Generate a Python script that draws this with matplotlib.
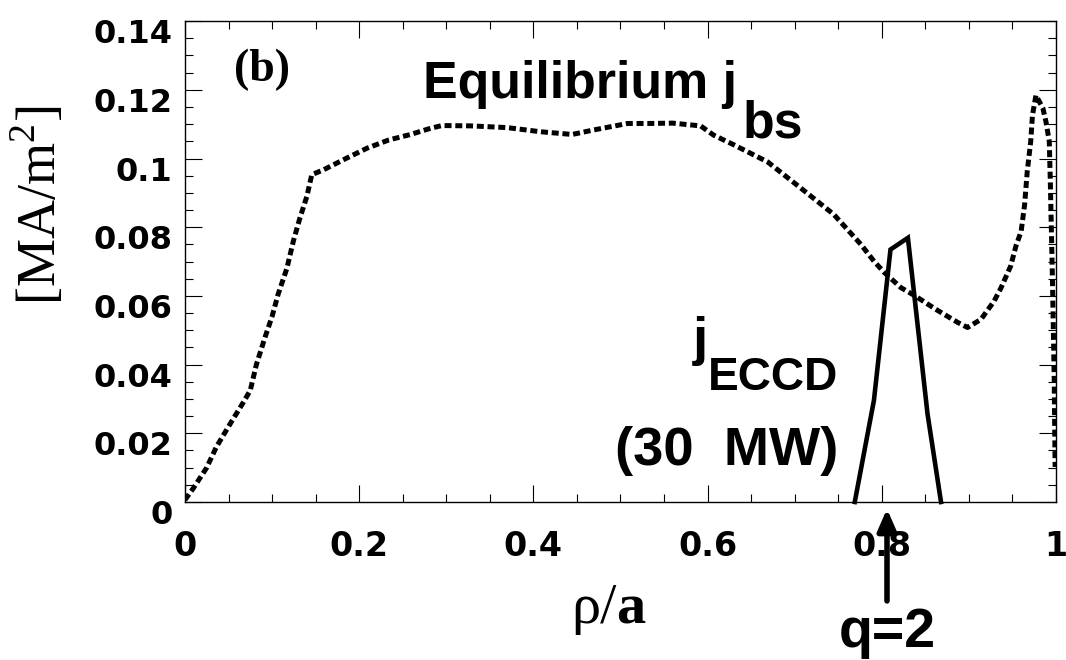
import matplotlib
matplotlib.use("Agg")
import matplotlib.pyplot as plt
import matplotlib.transforms as mtransforms
from matplotlib import font_manager
from matplotlib.ticker import MultipleLocator, FixedLocator, FixedFormatter

# equilibrium bootstrap current (dotted curve)
rho_bs = [0.0, 0.0096, 0.025, 0.036, 0.052, 0.067, 0.075, 0.082, 0.092, 0.100,
          0.107, 0.117, 0.1245, 0.132, 0.140, 0.1456, 0.159, 0.184, 0.209, 0.234,
          0.259, 0.282, 0.295, 0.328, 0.370, 0.408, 0.4445, 0.469, 0.508, 0.531,
          0.560, 0.592, 0.607, 0.630, 0.669, 0.707, 0.745, 0.776, 0.791, 0.803,
          0.822, 0.837, 0.862, 0.887, 0.8985, 0.914, 0.929, 0.937, 0.948, 0.954,
          0.960, 0.964, 0.967, 0.971, 0.973, 0.977, 0.985, 0.9885, 0.9923, 0.9935,
          0.996, 0.998, 0.999]
j_bs = [0.0006, 0.004, 0.010, 0.016, 0.0228, 0.029, 0.0325, 0.040, 0.048, 0.054,
        0.0605, 0.068, 0.076, 0.0827, 0.089, 0.0953, 0.0967, 0.0999, 0.103, 0.1054,
        0.107, 0.1088, 0.1096, 0.1095, 0.109, 0.1078, 0.107, 0.1083, 0.1102, 0.1102,
        0.1103, 0.1095, 0.1068, 0.104, 0.099, 0.0914, 0.0837, 0.075, 0.0701, 0.0668,
        0.0624, 0.0602, 0.0561, 0.0523, 0.0508, 0.0532, 0.0585, 0.0624, 0.0687, 0.0745,
        0.0788, 0.0866, 0.0962, 0.105, 0.1126, 0.1184, 0.1146, 0.1107, 0.105, 0.0933,
        0.0643, 0.0354, 0.0102]

# ECCD driven current (solid)
rho_eccd = [0.769, 0.791, 0.810, 0.830, 0.8525, 0.868]
j_eccd = [0.0, 0.0296, 0.0735, 0.0769, 0.0257, 0.0]

q2_rho = 0.806

x_ticks = [0, 0.2, 0.4, 0.6, 0.8, 1]
x_labels = ["0", "0.2", "0.4", "0.6", "0.8", "1"]
y_ticks = [0, 0.02, 0.04, 0.06, 0.08, 0.10, 0.12, 0.14]
y_labels = ["0", "0.02", "0.04", "0.06", "0.08", "0.1", "0.12", "0.14"]

names = {f.name for f in font_manager.fontManager.ttflist}
if "Liberation Sans Narrow" in names:
    narrow, k = "Liberation Sans Narrow", 1.0
else:
    narrow, k = "Liberation Sans", 0.85

fig = plt.figure(figsize=(10.66, 6.6), dpi=100)
ax = fig.add_axes([0.1735, 0.2394, 0.9906 - 0.1735, 0.968 - 0.2394])

ax.plot(rho_bs, j_bs, color="k", lw=3.6, linestyle=(0, (1.4, 0.75)),
        dash_capstyle="butt", solid_joinstyle="miter")
ax.plot(rho_eccd, j_eccd, color="k", lw=3.3, solid_joinstyle="miter", clip_on=False)

ax.set_xlim(0, 1)
ax.set_ylim(0, 0.14)
ax.xaxis.set_major_locator(FixedLocator(x_ticks))
ax.xaxis.set_major_formatter(FixedFormatter(x_labels))
ax.xaxis.set_minor_locator(MultipleLocator(0.05))
ax.yaxis.set_major_locator(FixedLocator(y_ticks))
ax.yaxis.set_major_formatter(FixedFormatter(y_labels))
ax.yaxis.set_minor_locator(MultipleLocator(0.005))

ax.tick_params(which="both", direction="in", top=True, right=True, width=0.8)
ax.tick_params(which="major", length=12)
ax.tick_params(which="minor", length=6)
ax.tick_params(axis="x", pad=20)
ax.tick_params(axis="y", pad=9)
for s in ax.spines.values():
    s.set_linewidth(1.0)

for lab in ax.get_xticklabels():
    lab.set_fontfamily("DejaVu Sans")
    lab.set_fontweight("bold")
    lab.set_fontsize(24)
shift = mtransforms.ScaledTranslation(0, -0.10, fig.dpi_scale_trans)
for lab in ax.get_yticklabels():
    lab.set_fontfamily("DejaVu Sans")
    lab.set_fontweight("bold")
    lab.set_fontsize(23)
    lab.set_transform(lab.get_transform() + shift)

# annotations
ax.text(0.0884, 0.1226, "(b)", family="Liberation Serif", weight="bold",
        fontsize=33, ha="center", va="baseline")
ax.text(0.2733, 0.1176, "Equilibrium j", family=narrow, weight="bold",
        fontsize=44 * k, ha="left", va="baseline")
ax.text(0.6406, 0.1060, "bs", family=narrow, weight="bold",
        fontsize=44 * k, ha="left", va="baseline")

ax.text(0.6005, 0.0427, "j", family=narrow, weight="bold",
        fontsize=46 * k, ha="right", va="baseline")
ax.text(0.7497, 0.0325, "ECCD", family=narrow, weight="bold",
        fontsize=39 * k, ha="right", va="baseline")
ax.text(0.7497, 0.0107, "(30  MW)", family=narrow, weight="bold",
        fontsize=46 * k, ha="right", va="baseline")

ax.annotate("", xy=(q2_rho, -0.002), xytext=(q2_rho, -0.0288),
            arrowprops=dict(arrowstyle="-|>,head_length=0.32,head_width=0.14",
                            mutation_scale=40, lw=4, color="k",
                            shrinkA=0, shrinkB=0),
            annotation_clip=False)
ax.text(q2_rho, -0.0421, "q=2", family=narrow, weight="bold",
        fontsize=47 * k, ha="center", va="baseline", clip_on=False)

# axis labels: upright rho, bold a
fig.text(0.578, 0.056, "\u03c1/", family="Liberation Serif", fontsize=42,
         ha="right", va="baseline")
fig.text(0.578, 0.056, "a", family="Liberation Serif", weight="bold", fontsize=42,
         ha="left", va="baseline")
fig.text(0.0375, 0.689, r"[MA/m$^\mathregular{2}$]", family="Liberation Serif",
         fontsize=39, rotation=90, ha="center", va="center")

fig.savefig("out.png", dpi=100)
